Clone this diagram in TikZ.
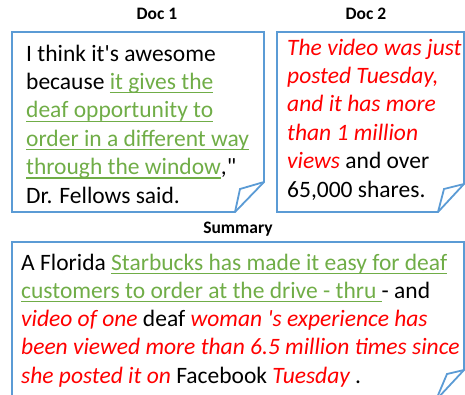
\documentclass[tikz,border=0pt]{standalone}
\usepackage{fontspec}
\setmainfont{Carlito}[Ligatures=TeXOff]
\definecolor{offgreen}{HTML}{70AD47}
\definecolor{offred}{HTML}{FF0000}
\definecolor{offblue}{HTML}{5B9BD5}
\newcommand\gul[1]{{\color{offgreen}\setbox0\hbox{#1}\rlap{\rule[-4pt]{\wd0}{1.3pt}}\box0}}
\newcommand\rit[1]{{\color{offred}\itshape #1}}
\tikzset{
  boxline/.style={draw=offblue, line width=1.8pt, line join=miter},
  ttl/.style={anchor=base, inner sep=0pt, font=\fontsize{17.5}{21}\selectfont\bfseries},
  txt/.style={anchor=base west, inner sep=0pt, font=\fontsize{23.5}{28.4}\selectfont},
}
\begin{document}
\begin{tikzpicture}[x=1pt,y=-1pt]
\useasboundingbox (0,0) rectangle (465,394);
\clip (0,0) rectangle (465,394);
% titles
\node[ttl] (t1) at (157,19) {Doc 1};
\node[ttl] (t2) at (366,19) {Doc 2};
\node[ttl] (t3) at (238,233) {Summary};
% Doc 1 box
\draw[boxline] (12,32) -- (264,32) -- (264,182) -- (235,212) -- (12,212) -- cycle;
\draw[boxline] (264,182) -- (240,189) -- (235,212);
% Doc 2 box
\draw[boxline] (277,32) -- (464,32) -- (464,184) -- (438,212) -- (277,212) -- cycle;
\draw[boxline] (464,184) -- (444,189) -- (438,212);
% Summary box
\draw[boxline] (12,242) -- (464,242) -- (464,370) -- (436,400) -- (12,400) -- cycle;
\draw[boxline] (464,370) -- (447,374) -- (436,400);
% Doc 1 text
\node[txt] (a1) at (26,61) {I think it's awesome};
\node[txt] (a2) at (26,89.4) {because \gul{it gives the}};
\node[txt] (a3) at (26,117.8) {\gul{deaf opportunity to}};
\node[txt] (a4) at (26,146.2) {\gul{order in a different way}};
\node[txt] (a5) at (26,174.6) {\gul{through the window},"};
\node[txt] (a6) at (26,203) {Dr. Fellows said.};
% Doc 2 text
\node[txt] (b1) at (287,55) {\rit{The video was just}};
\node[txt] (b2) at (287,83.4) {\rit{posted Tuesday,}};
\node[txt] (b3) at (287,111.8) {\rit{and it has more}};
\node[txt] (b4) at (287,140.2) {\rit{than 1 million}};
\node[txt] (b5) at (287,168.6) {\rit{views} and over};
\node[txt] (b6) at (287,197) {65,000 shares.};
% Summary text
\node[txt] (s1) at (21,270) {A Florida \gul{Starbucks has made it easy for deaf}};
\node[txt] (s2) at (21,298.25) {\gul{customers to order at the drive - thru\ }- and};
\node[txt] (s3) at (21,326.5) {\rit{video of one} deaf \rit{woman 's experience has}};
\node[txt] (s4) at (21,354.75) {\rit{been viewed more than 6.5 million times since}};
\node[txt] (s5) at (21,383) {\rit{she posted it on} Facebook \rit{Tuesday} .};
\end{tikzpicture}
\end{document}
